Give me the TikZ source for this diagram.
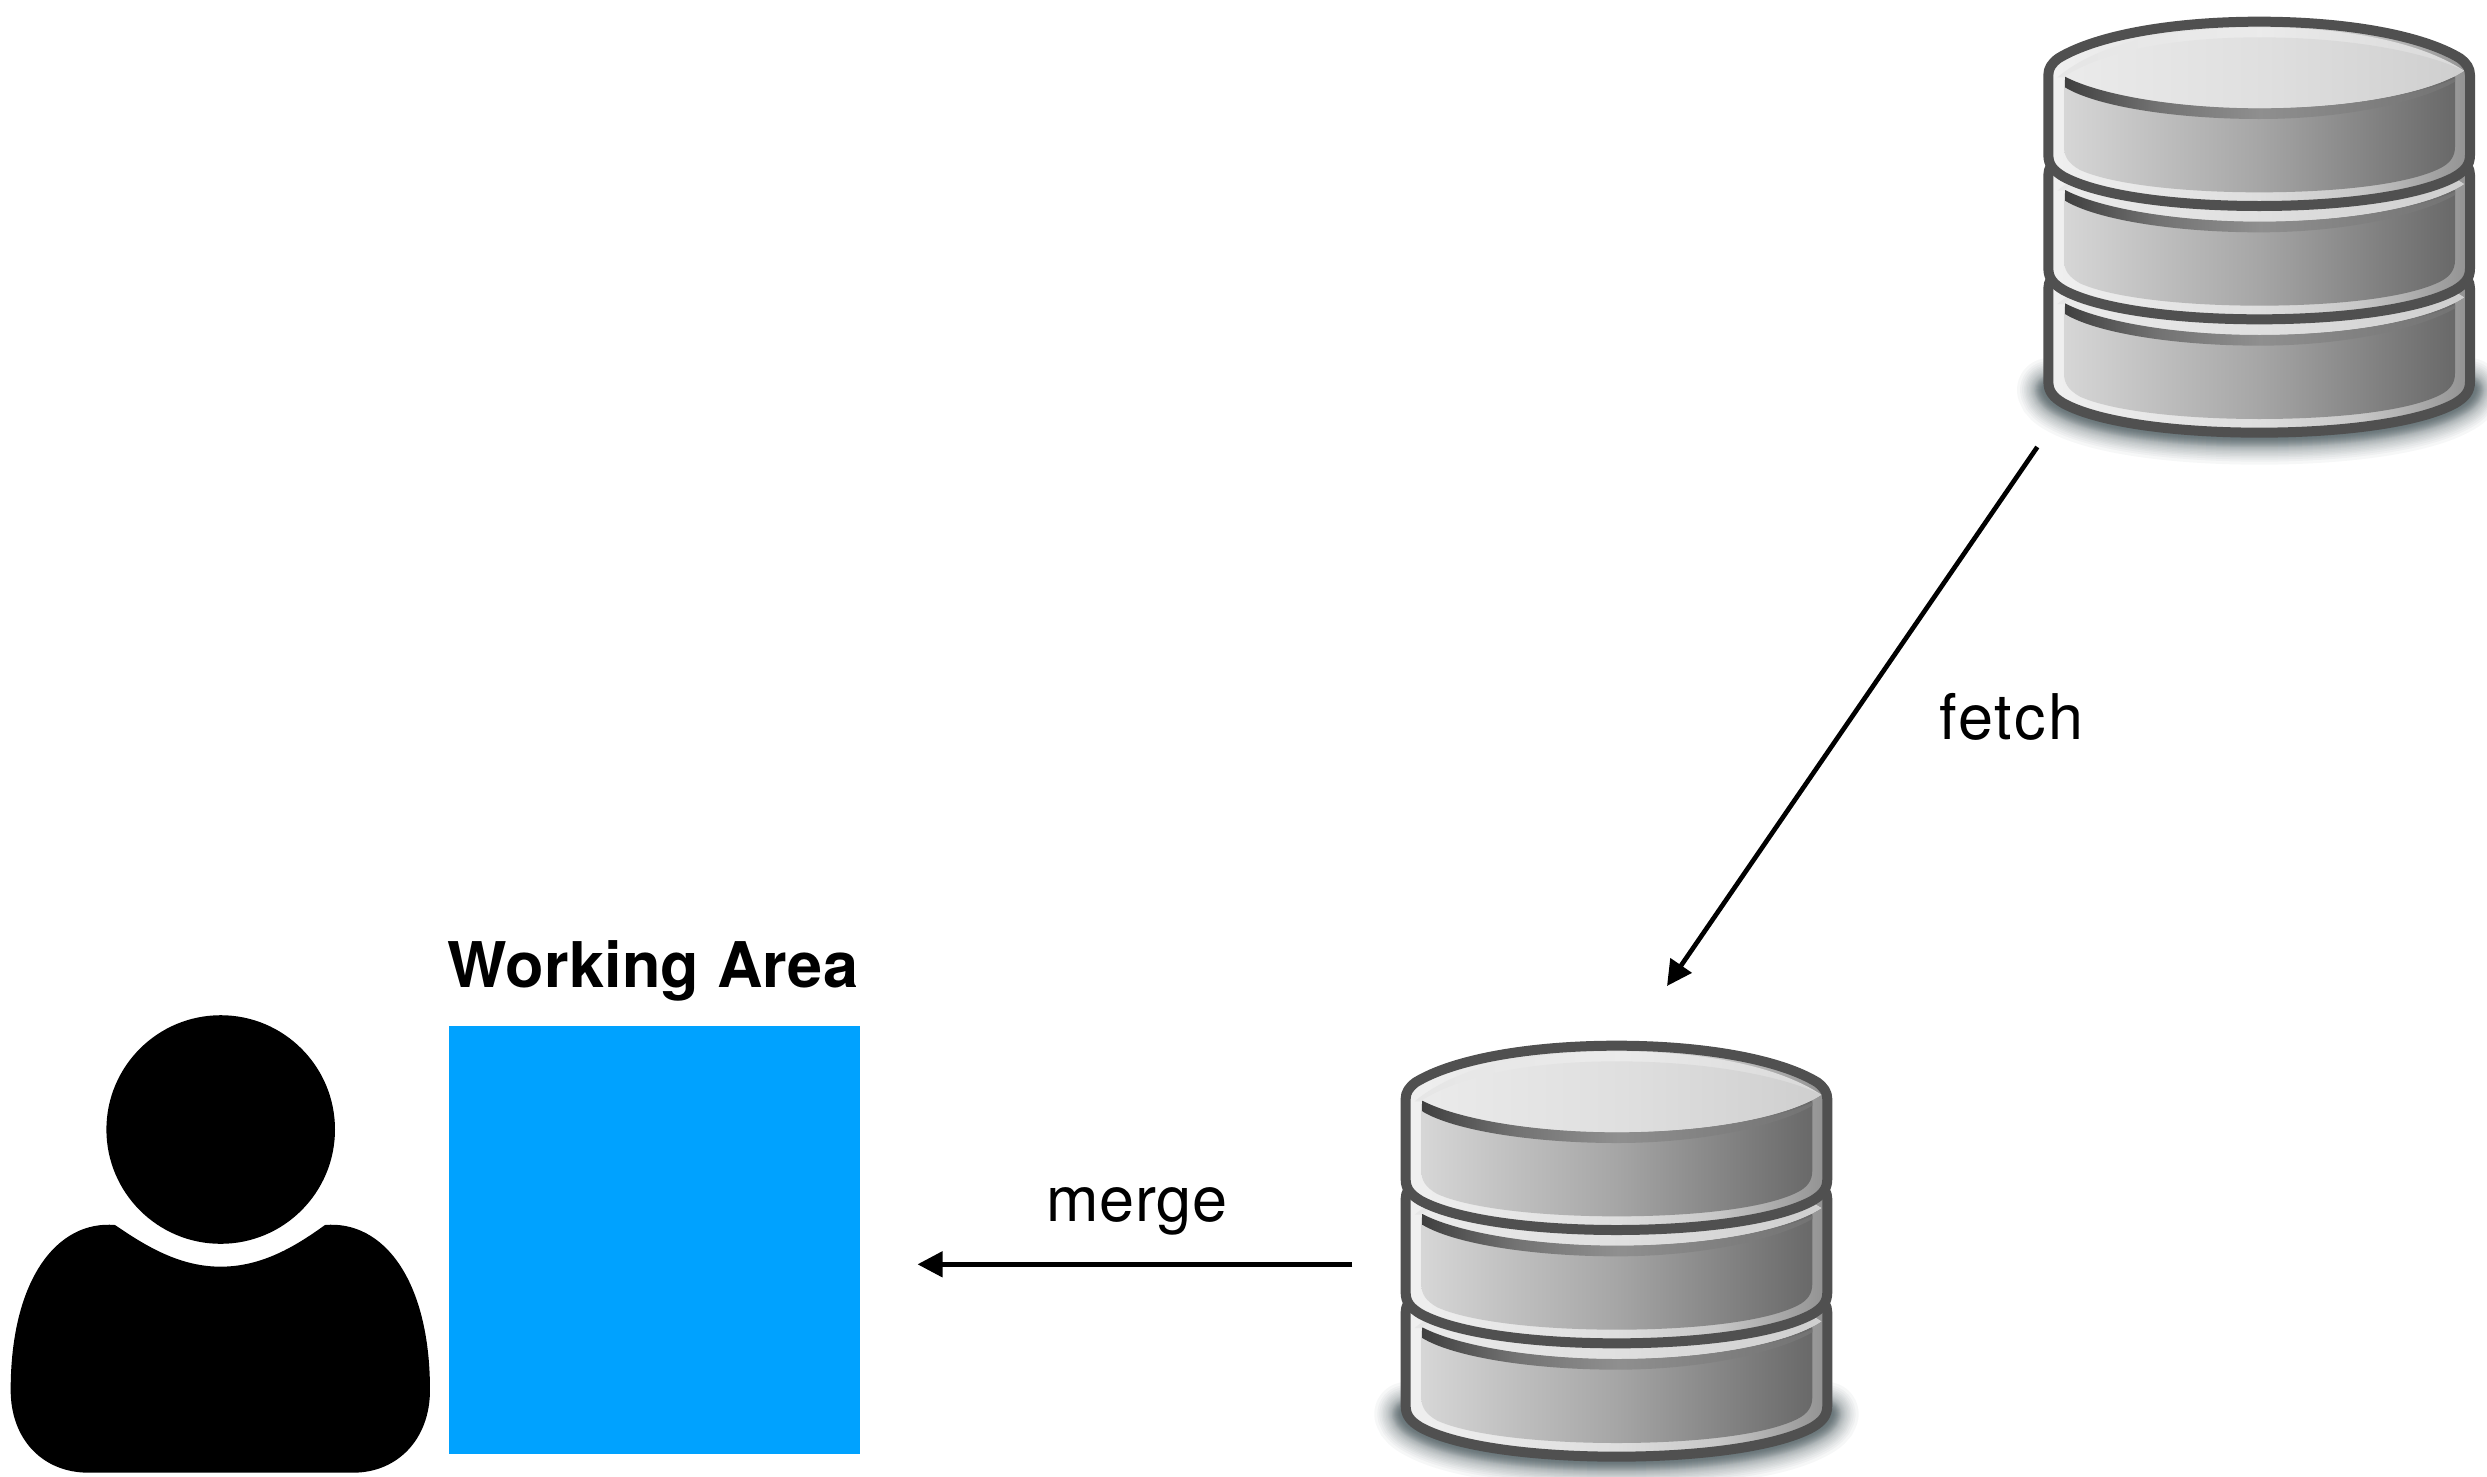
\documentclass[tikz,border=0pt]{standalone}
\usepackage{fontspec}
\setmainfont{TeX Gyre Heros}
\usetikzlibrary{arrows.meta,calc}
\definecolor{dboutline}{HTML}{505050}
\definecolor{areablue}{HTML}{00A2FF}
\definecolor{shadowcol}{HTML}{3F5055}
\pgfdeclarehorizontalshading{dbrim}{100bp}{rgb(0bp)=(.94,.94,.94); rgb(25bp)=(.94,.94,.94); rgb(50bp)=(.87,.87,.87); rgb(62bp)=(.78,.78,.78); rgb(75bp)=(.57,.57,.57); rgb(100bp)=(.57,.57,.57)}
\pgfdeclarehorizontalshading{dbbody}{100bp}{rgb(0bp)=(.84,.84,.84); rgb(25bp)=(.84,.84,.84); rgb(50bp)=(.65,.65,.65); rgb(75bp)=(.41,.41,.41); rgb(100bp)=(.41,.41,.41)}
\pgfdeclarehorizontalshading{dbface}{100bp}{rgb(0bp)=(.92,.92,.92); rgb(25bp)=(.92,.92,.92); rgb(50bp)=(.875,.875,.875); rgb(75bp)=(.81,.81,.81); rgb(100bp)=(.81,.81,.81)}
\pgfdeclarehorizontalshading{dblens}{100bp}{rgb(0bp)=(.90,.90,.90); rgb(25bp)=(.90,.90,.90); rgb(50bp)=(.92,.92,.92); rgb(75bp)=(.85,.85,.85); rgb(100bp)=(.85,.85,.85)}
\pgfdeclarehorizontalshading{dbarc}{100bp}{rgb(0bp)=(.25,.25,.25); rgb(25bp)=(.25,.25,.25); rgb(37bp)=(.45,.45,.45); rgb(50bp)=(.56,.56,.56); rgb(75bp)=(.45,.45,.45); rgb(100bp)=(.45,.45,.45)}
\newcommand{\dblayer}[2]{%
  \begin{scope}[shift={(0,#1)}]
    \path[shading=dbrim,draw=dboutline,line width=10pt,line join=round]
      (145,{225-#2}) .. controls (145,{205-#2}) and (155,{190-#2}) .. (175,{175-#2})
      .. controls (290,105) and (520,65) .. (778,65)
      .. controls (1035,65) and (1265,105) .. (1380,{175-#2})
      .. controls (1400,{190-#2}) and (1410,{205-#2}) .. (1410,{225-#2})
      -- (1410,465) .. controls (1410,495) and (1395,512) .. (1365,530)
      .. controls (1255,590) and (1015,618) .. (778,618)
      .. controls (540,618) and (300,590) .. (190,530)
      .. controls (160,512) and (145,495) .. (145,465) -- cycle;
    \path[shading=dbbody]
      (192,240) -- (192,440) .. controls (192,470) and (205,490) .. (240,510)
      .. controls (340,555) and (560,577) .. (778,577)
      .. controls (1000,577) and (1220,555) .. (1320,505)
      .. controls (1350,490) and (1365,470) .. (1365,440) -- (1365,230) -- cycle;
    \path[shading=dblens]
      (172,232) .. controls (300,125) and (520,82) .. (778,82)
      .. controls (1035,82) and (1260,125) .. (1392,212)
      .. controls (1290,280) and (1040,325) .. (778,325)
      .. controls (530,325) and (300,285) .. (192,232) -- cycle;
    \path[shading=dbface]
      (192,230) .. controls (320,150) and (530,112) .. (778,112)
      .. controls (1030,112) and (1260,150) .. (1392,212)
      .. controls (1290,280) and (1040,325) .. (778,325)
      .. controls (530,325) and (300,285) .. (192,230) -- cycle;
    \path[shading=dbarc]
      (195,230) .. controls (300,285) and (530,325) .. (778,325)
      .. controls (1040,325) and (1260,285) .. (1365,235)
      -- (1365,245) .. controls (1260,305) and (1040,357) .. (778,357)
      .. controls (530,357) and (290,320) .. (195,262) -- cycle;
  \end{scope}}
\newcommand{\dbicon}[1]{%
  \begin{scope}[shift={#1},x=0.33333pt,y=-0.33333pt]
    \begin{scope}
      \clip (-120,900) rectangle (1640,1395);
      \foreach \w in {10,12,14,15,16,17,18,19,20,21,22,23,24,25,26,27,28,29,30,32,34,36,38,41,44,47,50,54,58,64}
        \draw[shadowcol,opacity=.045,line width=\w pt,line cap=round]
          (147,1170) .. controls (152,1185) and (165,1197) .. (190,1210)
          .. controls (300,1270) and (540,1298) .. (778,1298)
          .. controls (1015,1298) and (1255,1270) .. (1365,1210)
          .. controls (1390,1197) and (1403,1185) .. (1408,1170);
    \end{scope}
    \dblayer{680}{40}
    \dblayer{340}{40}
    \dblayer{0}{0}
  \end{scope}}
\tikzset{
  anchorbox/.style={inner sep=0pt,outer sep=0pt,minimum width=432pt,minimum height=420pt},
  arealabel/.style={inner sep=0pt,outer sep=0pt,anchor=base,font=\fontsize{63}{70}\selectfont},
  arrowline/.style={line width=4.7pt,-{Triangle[length=25pt,width=25pt]}}
}
\begin{document}
\begin{tikzpicture}[x=1pt,y=-1pt]
  \clip (0,0) rectangle (2487,1476);
  \fill[white] (0,0) rectangle (2487,1476);
  % person
  \node[circle,fill=black,inner sep=0pt,outer sep=0pt,minimum size=228.6pt] (head) at (220.7,1129.5) {};
  \begin{scope}[shift={(0,980)},x=0.33333pt,y=-0.33333pt]
    \fill[black] (345,735) .. controls (440,800) and (540,860) .. (662,860)
      .. controls (785,860) and (885,800) .. (975,735)
      .. controls (1150,720) and (1290,900) .. (1290,1230)
      .. controls (1290,1380) and (1190,1478) .. (1060,1478)
      -- (265,1478)
      .. controls (130,1478) and (32,1380) .. (32,1230)
      .. controls (32,900) and (170,720) .. (345,735) -- cycle;
  \end{scope}
  % working area
  \node[fill=areablue,inner sep=0pt,outer sep=0pt,minimum width=411pt,minimum height=428pt] (workarea) at (654.5,1239.5) {};
  \node[arealabel,font=\fontsize{63}{70}\selectfont\bfseries\addfontfeature{LetterSpace=0.4}] (worklabel) at (653,987.3) {Working Area};
  % databases
  \dbicon{(2000,0)}
  \dbicon{(1357.3,1024)}
  \node[anchorbox] (dbremote) at (2259.3,227) {};
  \node[anchorbox] (dblocal) at (1617,1251) {};
  % connectors
  \draw[arrowline] ([shift={(-6,10)}]dbremote.south west) -- ([shift={(50,-55)}]dblocal.north);
  \draw[arrowline] ([shift={(-48.7,13.3)}]dblocal.west) -- ([shift={(57.5,24.8)}]workarea.east);
  \node[arealabel,font=\fontsize{63}{70}\selectfont\addfontfeature{LetterSpace=3.5}] (fetchlabel) at (2011.5,739) {fetch};
  \node[arealabel,font=\fontsize{63}{70}\selectfont\addfontfeature{LetterSpace=1.2}] (mergelabel) at (1137,1221.7) {merge};
\end{tikzpicture}
\end{document}
